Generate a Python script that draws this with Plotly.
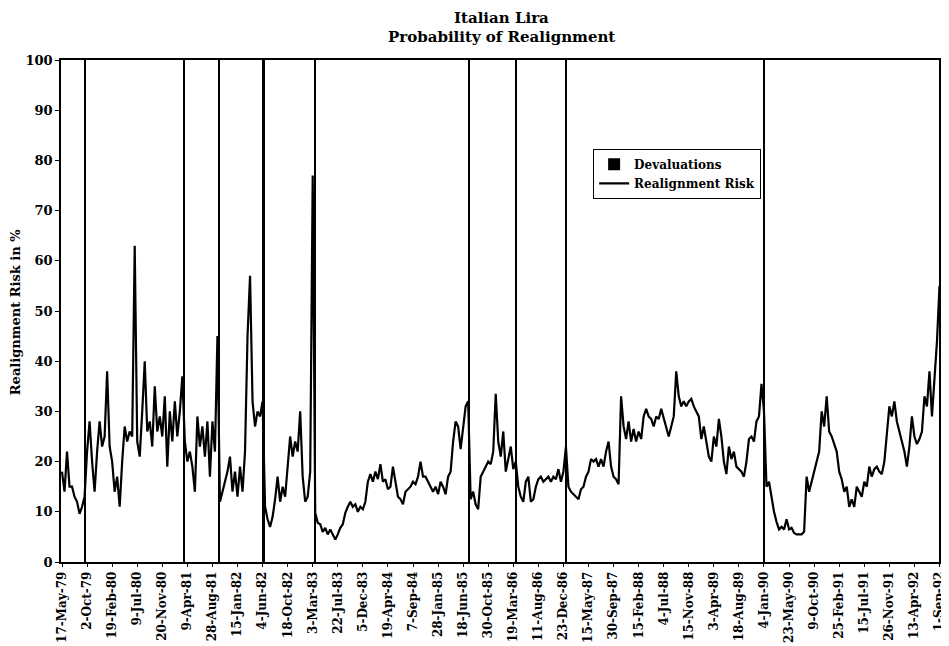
import plotly.graph_objects as go

tick_labels = ["17-May-79", "2-Oct-79", "19-Feb-80", "9-Jul-80", "20-Nov-80", "9-Apr-81",
               "28-Aug-81", "15-Jan-82", "4-Jun-82", "18-Oct-82", "3-Mar-83", "22-Jul-83",
               "5-Dec-83", "19-Apr-84", "7-Sep-84", "28-Jan-85", "18-Jun-85", "30-Oct-85",
               "19-Mar-86", "11-Aug-86", "23-Dec-86", "15-May-87", "30-Sep-87", "15-Feb-88",
               "4-Jul-88", "15-Nov-88", "3-Apr-89", "18-Aug-89", "4-Jan-90", "23-May-90",
               "9-Oct-90", "25-Feb-91", "15-Jul-91", "26-Nov-91", "13-Apr-92", "1-Sep-92"]
obs_per_tick = 100   # business-day observations between labelled dates
obs_step = 10        # observations between the values read below

risk = [
    18, 14, 22, 15, 15, 13, 12, 9.6, 11, 13,
    22, 28, 20, 14, 22, 28, 23, 25, 38, 23,
    20, 14, 17, 11, 20, 27, 24, 26, 25, 63,
    24, 21, 30, 40, 26, 28, 23, 35, 26, 29,
    25, 33, 19, 30, 24, 32, 25, 30, 37, 24,
    20, 22, 19, 14, 29, 23, 27, 21, 28, 17,
    28, 22, 45, 12, 14, 16, 18, 21, 14, 18,
    13, 19, 14, 22, 45, 57, 32, 27, 30, 29,
    32, 11, 8.5, 7, 9, 12.5, 17, 12, 15, 13,
    20, 25, 21, 24, 22, 30, 17, 12, 13, 18,
    77, 9.8, 7.8, 7.5, 6, 6.8, 5.5, 6.5, 5.5, 4.5,
    5.5, 6.8, 7.5, 9.8, 11, 12, 11, 11.5, 10, 11,
    10.5, 12, 16, 17.5, 16, 18, 16.5, 19.5, 16, 16.5,
    14.5, 15, 19, 16, 13, 12.5, 11.5, 14, 14.5, 15,
    16, 15.5, 17, 20, 17, 17, 16, 15, 14, 15,
    13.5, 16, 15, 13.5, 17, 18, 24, 28, 27, 22.5,
    27, 31, 32, 12.5, 14, 11.5, 10.5, 17, 18, 19,
    20, 19.5, 22, 33.5, 24, 21, 26, 18, 20.5, 23,
    18.5, 20, 15, 13, 12, 16, 17, 12, 12.5, 15,
    16.5, 17, 16, 16.5, 17, 16, 17, 16.5, 18.5, 16,
    18, 23, 15, 14, 13.5, 13, 12.5, 14.5, 15, 17,
    18, 20.5, 20, 20.5, 19, 20.5, 19, 22, 24, 19,
    17, 16.5, 15.5, 33, 27, 24.5, 28, 24, 26.5, 24,
    26, 24.5, 29, 30.5, 29, 28.5, 27, 29, 28.5, 30.5,
    28.5, 27, 25, 27, 29, 38, 33, 31, 32, 31,
    32, 32.5, 31, 30, 29, 24.5, 27, 24, 21, 20,
    25, 23, 28.5, 25, 20, 17.5, 23, 20.5, 22, 19,
    18.5, 18, 17, 20, 24.5, 25, 24, 28, 29, 35.5,
    30, 15, 16, 13, 10, 8, 6.5, 7, 6.5, 8.5,
    6.5, 6.8, 5.8, 5.5, 5.5, 5.5, 6, 17, 14, 16,
    18, 19.5, 22, 30, 27, 33, 26, 25, 23.5, 22,
    18, 16.5, 14, 15, 11, 12.5, 11, 15, 14, 13,
    16, 15, 19, 17, 18.5, 19, 18, 17.5, 20, 25,
    31, 29, 32, 28, 26, 23.5, 22, 19, 23, 29,
    25, 23.5, 24.5, 26, 33, 31, 38, 29, 36, 44,
    55,
]

# Devaluation dates, as observation numbers on the same axis
deval_obs = [94, 487, 626, 805, 1009, 1625, 1811, 2012, 2801, 3505]
deval_height = [100] * len(deval_obs)

x_risk = [i * obs_step for i in range(len(risk))]
tickvals = [i * obs_per_tick for i in range(len(tick_labels))]

FONT = "DejaVu Serif"

fig = go.Figure()
fig.add_trace(go.Bar(
    x=deval_obs, y=deval_height, width=7, name="Devaluations",
    marker=dict(color="black", line=dict(width=0)),
))
fig.add_trace(go.Scatter(
    x=x_risk, y=risk, mode="lines", name="Realignment Risk",
    line=dict(color="black", width=2.2),
))

# the page body adds an 8px offset, so the figure is 8px smaller each way
fig.update_layout(
    width=941, height=638,
    paper_bgcolor="white", plot_bgcolor="white",
    margin=dict(l=53, r=7, t=52, b=84, autoexpand=False),
    font=dict(family=FONT, color="black", size=12, weight="bold"),
    showlegend=True,
    legend=dict(
        x=0.604, y=0.823, xanchor="left", yanchor="top",
        bordercolor="black", borderwidth=1, bgcolor="white",
        font=dict(family=FONT, size=12, color="black", weight="bold"),
        tracegroupgap=0, itemwidth=30,
    ),
    bargap=0,
    annotations=[
        dict(text="Italian Lira", xref="paper", yref="paper", x=0.5, y=1.084,
             xanchor="center", yanchor="middle", showarrow=False,
             font=dict(family=FONT, size=15, color="black", weight="bold")),
        dict(text="Probability of Realignment", xref="paper", yref="paper", x=0.5, y=1.045,
             xanchor="center", yanchor="middle", showarrow=False,
             font=dict(family=FONT, size=15, color="black", weight="bold")),
        dict(text="Realignment Risk in %", xref="paper", yref="paper", x=-0.052, y=0.498,
             xanchor="center", yanchor="middle", showarrow=False, textangle=-90,
             font=dict(family=FONT, size=13, color="black", weight="bold")),
    ],
)
fig.update_xaxes(
    range=[-4, 3510], tickmode="array", tickvals=tickvals, ticktext=tick_labels,
    tickangle=-90, tickfont=dict(family=FONT, size=12, color="black", weight="bold"),
    showgrid=False, zeroline=False, showline=True, linecolor="black", linewidth=1.5,
    mirror=True, ticks="outside", ticklen=3, tickcolor="black", automargin=False,
)
fig.update_yaxes(
    range=[0, 100], tickmode="linear", tick0=0, dtick=10,
    tickfont=dict(family=FONT, size=13, color="black", weight="bold"),
    showgrid=False, zeroline=False, showline=True, linecolor="black", linewidth=1.5,
    mirror=True, ticks="outside", ticklen=4, tickcolor="black", automargin=False,
)

fig.write_html("out.html")
